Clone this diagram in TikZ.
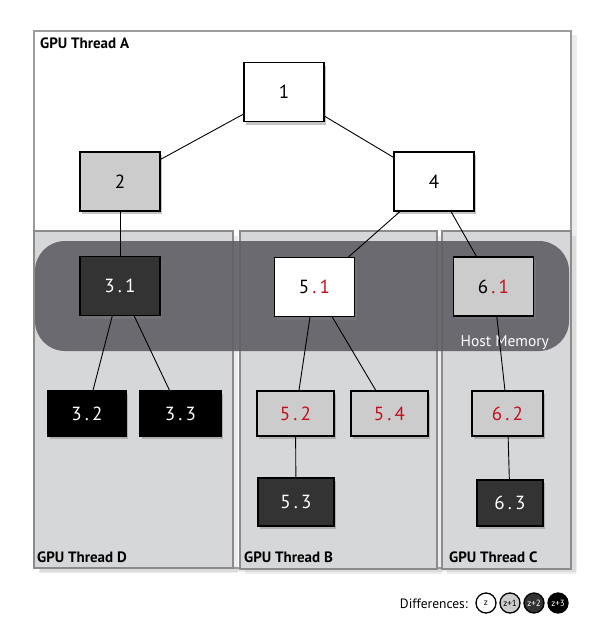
\documentclass[tikz,border=0pt]{standalone}
\usepackage{fontspec}
\setmainfont{PT Sans}
\usepackage{xcolor}
\usetikzlibrary{positioning,shadows}

\definecolor{threadgray}{HTML}{D6D7D9}
\definecolor{threadline}{HTML}{8C8A8C}
\definecolor{hostgray}{HTML}{5F5F65}
\definecolor{boxlight}{HTML}{CCCCCC}
\definecolor{boxdark}{HTML}{333333}
\definecolor{diffred}{HTML}{C40F1E}
\newcommand{\rd}[1]{\textcolor{diffred}{#1}}

\begin{document}
\begin{tikzpicture}[x=1pt,y=-1pt,
  thread/.style={draw=threadline, line width=1.4pt, fill=threadgray,
    drop shadow={shadow xshift=5pt, shadow yshift=-5pt, opacity=.15}},
  thlabel/.style={anchor=base west, inner sep=0pt, font=\fontsize{15}{16}\selectfont\bfseries},
  tbox/.style={draw=black, line width=1.1pt, inner sep=0pt,
    font=\fontsize{19}{20}\selectfont,
    drop shadow={shadow xshift=2pt, shadow yshift=-3pt, opacity=.45}},
  wbox/.style={tbox, fill=white},
  lbox/.style={tbox, fill=boxlight},
  dbox/.style={tbox, fill=boxdark, text=white},
  bbox/.style={tbox, fill=black, text=white},
  big/.style={minimum width=80pt, minimum height=59pt},
  edge/.style={draw=black, line width=0.9pt},
  diff/.style={circle, draw=black, line width=1.3pt, minimum size=20pt, inner sep=0pt,
    font=\fontsize{9}{10}\selectfont}]

\fill[white] (0,0) rectangle (600,632);
\useasboundingbox (0,0) rectangle (600,632);

\draw[draw=threadline!85, line width=1.4pt, fill=white,
  drop shadow={shadow xshift=6pt, shadow yshift=-4pt, opacity=.15}] (34,31) rectangle (571,568);
\draw[thread] (34,231) rectangle (233,568);
\draw[thread] (240,231) rectangle (437,569);
\draw[thread] (442,231) rectangle (571,569);
\fill[hostgray, opacity=.9, rounded corners=30pt] (35,241) rectangle (569,351);

\node[thlabel] (labA) at (40,48) {GPU Thread A};
\node[thlabel] (labD) at (37,562) {GPU Thread D};
\node[thlabel] (labB) at (244,562) {GPU Thread B};
\node[thlabel] (labC) at (449,562) {GPU Thread C};
\node[anchor=base east, inner sep=0pt, text=white, font=\fontsize{15.5}{16}\selectfont] (host) at (549,346) {Host Memory};

\node[wbox, big] (n1) at (284,92) {1};
\node[lbox, big] (n2) at (120,181.5) {2};
\node[wbox, big] (n4) at (434,181.5) {4};
\node[dbox, big] (n31) at (120,286) {3\,.\,1};
\node[wbox, big] (n51) at (314.5,287) {5\,\rd{.\,1}};
\node[lbox, big] (n61) at (493.5,286.5) {6\,\rd{.\,1}};
\node[bbox, minimum width=78pt, minimum height=45pt] (n32) at (87,413.5) {3\,.\,2};
\node[bbox, minimum width=81pt, minimum height=45pt] (n33) at (180.5,413.5) {3\,.\,3};
\node[lbox, minimum width=77pt, minimum height=45pt] (n52) at (295.5,413.5) {\rd{5\,.\,2}};
\node[lbox, minimum width=77pt, minimum height=45pt] (n54) at (389.5,413.5) {\rd{5\,.\,4}};
\node[lbox, minimum width=71pt, minimum height=45pt] (n62) at (507.5,413.5) {\rd{6\,.\,2}};
\node[dbox, minimum width=76pt, minimum height=48pt] (n53) at (296,502) {5\,.\,3};
\node[dbox, minimum width=66pt, minimum height=46pt] (n63) at (510,503) {6\,.\,3};

\draw[edge] (n1) -- (n2);
\draw[edge] (n1) -- (n4);
\draw[edge] (n2) -- (n31);
\draw[edge] (n4) -- (n51);
\draw[edge] (n4) -- (n61);
\draw[edge] (n31) -- (n32);
\draw[edge] (n31) -- (n33);
\draw[edge] (n51) -- (n52);
\draw[edge] (n51) -- (n54);
\draw[edge] (n61) -- (n62);
\draw[edge] (n52) -- (n53);
\draw[edge] (n62) -- (n63);

\node[anchor=base east, inner sep=0pt, font=\fontsize{13.5}{14}\selectfont] (difftext) at (468,608) {Differences:};
\node[diff, fill=white] (dz) at (486,603) {z};
\node[diff, fill=boxlight] (dz1) at (510,603) {z+1};
\node[diff, fill=boxdark, text=white] (dz2) at (534,603) {z+2};
\node[diff, fill=black, text=white] (dz3) at (558,603) {z+3};
\end{tikzpicture}
\end{document}
